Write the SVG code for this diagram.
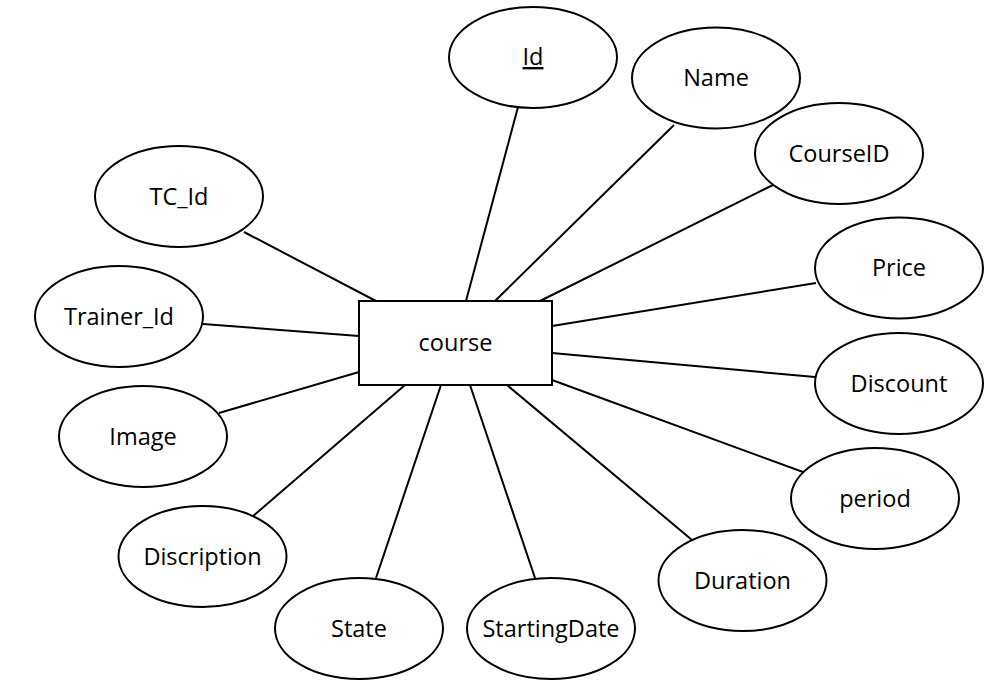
<svg xmlns="http://www.w3.org/2000/svg" width="1003" height="691" viewBox="0 0 1003 691">
<style>
.e{fill:#fff;stroke:#000;stroke-width:2}
.r{fill:#fff;stroke:#000;stroke-width:2}
.t{font-family:"Open Sans","Noto Sans","Liberation Sans",sans-serif;font-size:23.5px;fill:#000;text-anchor:middle}
.c line{stroke:#000;stroke-width:2}
</style>
<rect width="1003" height="691" fill="#fff"/>
<g class="c" id="connectors">
<line x1="518" y1="107" x2="466" y2="301"/>
<line x1="674" y1="125" x2="495" y2="301"/>
<line x1="773" y1="185" x2="540" y2="301"/>
<line x1="816" y1="283" x2="552" y2="326"/>
<line x1="815" y1="377" x2="552" y2="353"/>
<line x1="803" y1="472" x2="552" y2="380"/>
<line x1="692" y1="540" x2="507" y2="385"/>
<line x1="535" y1="578" x2="470" y2="385"/>
<line x1="376" y1="578" x2="441" y2="385"/>
<line x1="252" y1="517" x2="405" y2="385"/>
<line x1="219" y1="413" x2="359" y2="372"/>
<line x1="203" y1="324" x2="359" y2="336"/>
<line x1="244" y1="232" x2="376" y2="301"/>
</g>
<g id="course"><rect class="r" x="359" y="301" width="193" height="84"/><text class="t" x="455.5" y="351">course</text></g>
<g id="id"><ellipse class="e" cx="533" cy="57.5" rx="84" ry="50.5"/><text class="t" x="533" y="65" text-decoration="underline">Id</text></g>
<g id="name"><ellipse class="e" cx="716" cy="78" rx="84" ry="50.5"/><text class="t" x="716" y="86">Name</text></g>
<g id="courseid"><ellipse class="e" cx="839" cy="153.5" rx="84" ry="50.5"/><text class="t" x="839" y="161.5">CourseID</text></g>
<g id="price"><ellipse class="e" cx="899" cy="268" rx="84" ry="50.5"/><text class="t" x="899" y="276">Price</text></g>
<g id="discount"><ellipse class="e" cx="899" cy="383.5" rx="84" ry="50.5"/><text class="t" x="899" y="392">Discount</text></g>
<g id="period"><ellipse class="e" cx="875" cy="498.5" rx="84" ry="50.5"/><text class="t" x="875" y="506.5">period</text></g>
<g id="duration"><ellipse class="e" cx="742.5" cy="580.5" rx="84" ry="50.5"/><text class="t" x="742.5" y="588.5">Duration</text></g>
<g id="startingdate"><ellipse class="e" cx="551" cy="628.5" rx="84" ry="50.5"/><text class="t" x="551" y="636.5">StartingDate</text></g>
<g id="state"><ellipse class="e" cx="359" cy="628.5" rx="84" ry="50.5"/><text class="t" x="359" y="636.5">State</text></g>
<g id="discription"><ellipse class="e" cx="202.5" cy="556.5" rx="84" ry="50.5"/><text class="t" x="202.5" y="564.5">Discription</text></g>
<g id="image"><ellipse class="e" cx="143" cy="436.5" rx="84" ry="50.5"/><text class="t" x="143" y="444.5">Image</text></g>
<g id="trainer_id"><ellipse class="e" cx="119" cy="316.5" rx="84" ry="50.5"/><text class="t" x="119" y="324.5">Trainer_Id</text></g>
<g id="tc_id"><ellipse class="e" cx="179" cy="196.5" rx="84" ry="50.5"/><text class="t" x="179" y="204.5">TC_Id</text></g>
</svg>
